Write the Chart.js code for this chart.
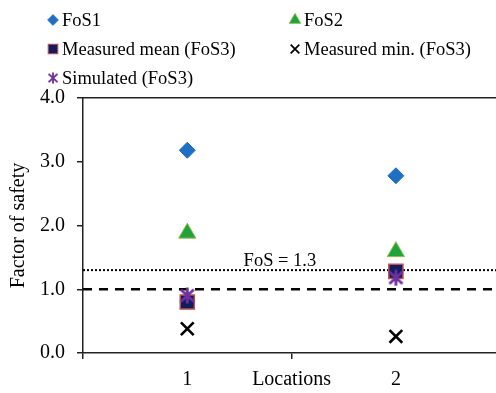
<!DOCTYPE html>
<html>
<head>
<meta charset="utf-8">
<title>Factor of safety</title>
<script src="https://cdn.jsdelivr.net/npm/chart.js@4.4.1/dist/chart.umd.min.js"></script>
<style>
	html, body { margin: 0; padding: 0; background: #fff; overflow: hidden; }
	canvas { display: block; }
</style>
</head>
<body>
<canvas id="fosChart" width="496" height="393"></canvas>
<script>
// values per location
var locations = [1, 2];
var fos1 = [3.18, 2.78];
var fos2 = [1.88, 1.59];
var measuredMean = [0.80, 1.28];
var measuredMin = [0.38, 0.26];
var simulated = [0.90, 1.18];

// axes
var yTickValues = [0, 1, 2, 3, 4];
var xTickValues = [0.5, 1, 1.5, 2];
var xTickLabels = ['', '1', 'Locations', '2'];

// reference levels
var safetyLimit = 1.0;
var targetFos = 1.3;
var targetLabel = 'FoS = 1.3';

var SERIF = '"Liberation Serif", "Times New Roman", serif';
var AXIS_COLOR = '#222';

// Excel style star: an X with a vertical bar through it
var starMark = (function () {
	var c = document.createElement('canvas');
	c.width = 17; c.height = 17;
	var g = c.getContext('2d');
	g.strokeStyle = '#7030a0';
	g.lineWidth = 2.8;
	g.lineCap = 'butt';
	g.beginPath();
	g.moveTo(2, 2.5); g.lineTo(15, 14.5);
	g.moveTo(15, 2.5); g.lineTo(2, 14.5);
	g.moveTo(8.5, 0.5); g.lineTo(8.5, 16.5);
	g.stroke();
	return c;
})();

var toPoints = function (values) {
	return locations.map(function (loc, i) { return { x: loc, y: values[i] }; });
};

var datasets = [
	{ label: 'FoS1', data: toPoints(fos1), pointStyle: 'rectRot', pointRadius: 8,
		backgroundColor: '#1f6fc4', borderColor: '#1f6fc4', borderWidth: 1, order: 1 },
	{ label: 'FoS2', data: toPoints(fos2), pointStyle: 'triangle', pointRadius: 10,
		backgroundColor: '#20a43a', borderColor: '#9bbb59', borderWidth: 1, order: 1 },
	{ label: 'Measured mean (FoS3)', data: toPoints(measuredMean), pointStyle: 'rect', pointRadius: 10,
		backgroundColor: '#0f1d5e', borderColor: '#c0504d', borderWidth: 1.5, order: 1 },
	{ label: 'Measured min. (FoS3)', data: toPoints(measuredMin), pointStyle: 'crossRot', pointRadius: 9,
		backgroundColor: '#000', borderColor: '#000', borderWidth: 2.6, order: 1 },
	{ label: 'Simulated (FoS3)', data: toPoints(simulated), pointStyle: starMark, pointRadius: 8,
		backgroundColor: '#7030a0', borderColor: '#7030a0', borderWidth: 2, order: 0 }
];

// two column legend in the top margin
var gridLegend = {
	id: 'gridLegend',
	afterDraw: function (chart, args, opts) {
		var ctx = chart.ctx;
		var drawPoint = Chart.helpers.drawPoint;
		ctx.save();
		ctx.font = opts.fontSize + 'px ' + SERIF;
		ctx.textBaseline = 'middle';
		ctx.textAlign = 'left';
		chart.data.datasets.forEach(function (ds, i) {
			var x = opts.columns[i % 2];
			var y = opts.rows[Math.floor(i / 2)];
			ctx.save();
			ctx.translate(x, y);
			ctx.scale(opts.markScale, opts.markScale);
			ctx.fillStyle = ds.backgroundColor;
			ctx.strokeStyle = ds.borderColor;
			ctx.lineWidth = ds.borderWidth;
			drawPoint(ctx, { pointStyle: ds.pointStyle, radius: ds.pointRadius, rotation: 0, borderWidth: ds.borderWidth }, 0, 0);
			ctx.restore();
			ctx.fillStyle = '#000';
			ctx.fillText(ds.label, x + opts.textGap, y + 1);
		});
		ctx.restore();
	}
};

// FoS = 1.0 dashed and FoS = 1.3 dotted levels
var levelLines = {
	id: 'levelLines',
	beforeDatasetsDraw: function (chart) {
		var ctx = chart.ctx, area = chart.chartArea, y = chart.scales.y, x = chart.scales.x;
		var yLimit = y.getPixelForValue(safetyLimit);
		var yTarget = y.getPixelForValue(targetFos);
		ctx.save();
		ctx.strokeStyle = '#000';

		ctx.lineWidth = 2.4;
		ctx.setLineDash([9, 7]);
		ctx.beginPath();
		ctx.moveTo(area.left, yLimit);
		ctx.lineTo(area.right, yLimit);
		ctx.stroke();

		ctx.lineWidth = 2;
		ctx.setLineDash([2, 2]);
		ctx.beginPath();
		ctx.moveTo(area.left, yTarget);
		ctx.lineTo(area.right, yTarget);
		ctx.stroke();

		ctx.setLineDash([]);
		ctx.fillStyle = '#000';
		ctx.font = '18.5px ' + SERIF;
		ctx.textAlign = 'left';
		ctx.textBaseline = 'alphabetic';
		ctx.fillText(targetLabel, x.getPixelForValue(1.27), yTarget - 4);
		ctx.restore();
	}
};

// keep the plot box where it is, whatever the edge labels need
var noEdgePadding = function (scale) {
	scale.paddingLeft = 0;
	scale.paddingRight = 0;
	scale.paddingTop = 0;
	scale.paddingBottom = 0;
};

var tickFont = { family: SERIF, size: 20 };

new Chart(document.getElementById('fosChart'), {
	type: 'scatter',
	data: { datasets: datasets },
	plugins: [levelLines, gridLegend],
	options: {
		responsive: false,
		animation: false,
		layout: { autoPadding: false, padding: { top: 98, left: 0, right: 0, bottom: 0 } },
		plugins: {
			legend: { display: false },
			tooltip: { enabled: false },
			gridLegend: {
				columns: [53, 295],
				rows: [20, 49, 78],
				textGap: 9,
				markScale: 0.68,
				fontSize: 18.5
			}
		},
		scales: {
			x: {
				type: 'linear',
				position: 'bottom',
				min: 0.5,
				max: 2.48,
				afterBuildTicks: function (scale) {
					scale.ticks = xTickValues.map(function (v) { return { value: v }; });
				},
				afterFit: function (scale) {
					scale.height = 40;
					noEdgePadding(scale);
				},
				ticks: {
					color: '#000',
					font: tickFont,
					padding: 9,
					maxRotation: 0,
					autoSkip: false,
					callback: function (v, i) { return xTickLabels[i]; }
				},
				grid: {
					drawOnChartArea: false,
					drawTicks: true,
					tickLength: 6,
					lineWidth: 1.5,
					color: function (ctx) {
						var v = ctx.tick ? ctx.tick.value : null;
						return (v === 1 || v === 2) ? 'rgba(0,0,0,0)' : AXIS_COLOR;
					}
				},
				border: { display: true, color: AXIS_COLOR, width: 1.5 }
			},
			xTop: {
				type: 'linear',
				position: 'top',
				min: 0.5,
				max: 2.48,
				afterFit: function (scale) {
					scale.height = 0;
					noEdgePadding(scale);
				},
				ticks: { display: false },
				grid: { drawOnChartArea: false, drawTicks: false },
				border: { display: true, color: AXIS_COLOR, width: 1.5 }
			},
			y: {
				type: 'linear',
				min: 0,
				max: 4,
				afterBuildTicks: function (scale) {
					scale.ticks = yTickValues.map(function (v) { return { value: v }; });
				},
				afterFit: function (scale) {
					scale.width = 83;
					noEdgePadding(scale);
				},
				ticks: {
					color: '#000',
					font: tickFont,
					padding: 12,
					callback: function (v) { return v.toFixed(1); }
				},
				grid: {
					drawOnChartArea: false,
					drawTicks: true,
					tickLength: 6,
					lineWidth: 1.5,
					color: AXIS_COLOR
				},
				border: { display: true, color: AXIS_COLOR, width: 1.5 },
				title: {
					display: true,
					text: 'Factor of safety',
					color: '#000',
					font: { family: SERIF, size: 20 },
					padding: { top: 7, bottom: 0 }
				}
			}
		}
	}
});
</script>
</body>
</html>
